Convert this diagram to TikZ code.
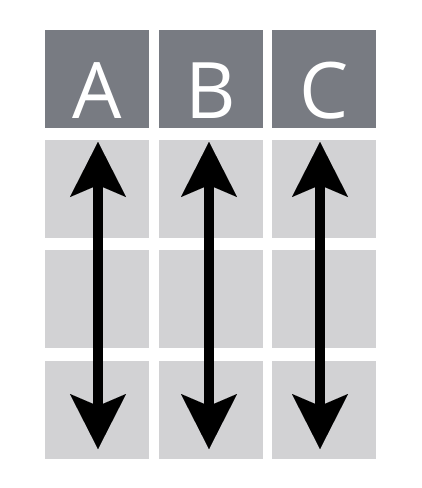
\documentclass[tikz,border=0pt]{standalone}
\usepackage{fontspec}
\setmainfont{Open Sans}
\usetikzlibrary{arrows.meta}
\definecolor{hdrgray}{HTML}{787B82}
\definecolor{cellgray}{HTML}{D2D2D4}
\begin{document}
\begin{tikzpicture}[x=1pt,y=-1pt,
  cellbox/.style={fill=cellgray,draw=none,minimum width=104pt,minimum height=98pt,inner sep=0pt,outer sep=0pt},
  hdrbox/.style={cellbox,fill=hdrgray},
  letter/.style={text=white,font=\fontsize{78}{78}\selectfont,anchor=base,inner sep=0pt},
  bigarrow/.style={line width=9.5pt,{Stealth[length=55pt,width=56pt,inset=12pt,line width=0.01pt]}-{Stealth[length=55pt,width=56pt,inset=12pt,line width=0.01pt]}}]
\useasboundingbox (0,0) rectangle (422,488);
\fill[white] (0,0) rectangle (422,488);
% header cells
\node[hdrbox] (hA) at (97,79) {};
\node[hdrbox] (hB) at (210.5,79) {};
\node[hdrbox] (hC) at (324,79) {};
% body cells
\foreach \c/\x in {A/97,B/210.5,C/324}{
  \node[cellbox] (r1\c) at (\x,189) {};
  \node[cellbox] (r2\c) at (\x,299) {};
  \node[cellbox] (r3\c) at (\x,409.5) {};
}
% letters
\node[letter] (lA) at (97,118) {A};
\node[letter] (lB) at (210.5,118) {B};
\node[letter] (lC) at (324,118) {C};
% arrows
\coordinate (tA) at (98,142);  \coordinate (bA) at (98,449);
\coordinate (tB) at (209,142); \coordinate (bB) at (209,449);
\coordinate (tC) at (320,142); \coordinate (bC) at (320,449);
\draw[bigarrow] (tA) -- (bA);
\draw[bigarrow] (tB) -- (bB);
\draw[bigarrow] (tC) -- (bC);
\end{tikzpicture}
\end{document}
